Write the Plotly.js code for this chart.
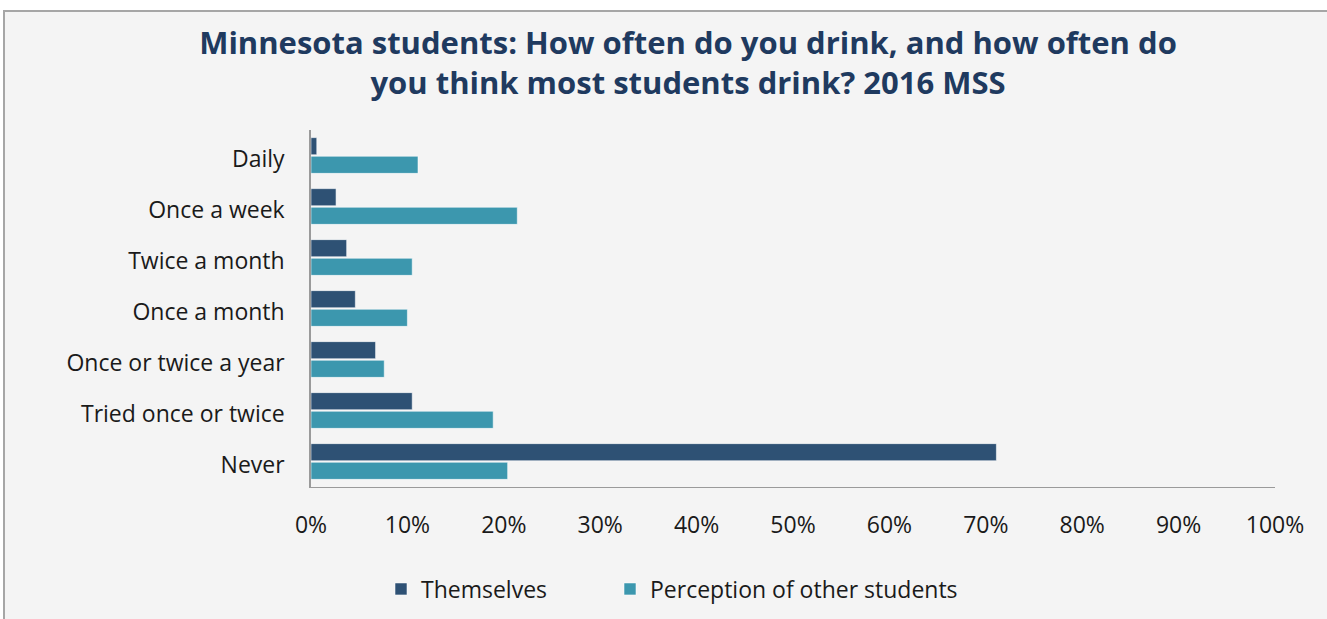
<!DOCTYPE html>
<html>
<head>
<meta charset="utf-8">
<script src="https://cdn.plot.ly/plotly-3.0.1.min.js"></script>
<style>
  html, body { margin: 0; padding: 0; background: #ffffff; width: 1327px; height: 619px; overflow: hidden; }
  #chart { position: absolute; left: 3px; top: 10px; width: 1322px; height: 607px;
           border-top: 2px solid #a6a6a6; border-left: 2px solid #a6a6a6; background: #f4f4f4; }
</style>
</head>
<body>
<div id="chart"></div>
<script>
const categories = ["Daily", "Once a week", "Twice a month", "Once a month", "Once or twice a year", "Tried once or twice", "Never"];
const themselves = [0.6, 2.6, 3.7, 4.6, 6.7, 10.5, 71.1];
const perception = [11.1, 21.4, 10.5, 10.0, 7.6, 18.9, 20.4];
const seriesNames = ["Themselves", "Perception of other students"];
const xTickVals = [0, 10, 20, 30, 40, 50, 60, 70, 80, 90, 100];
const xTickText = ["0%", "10%", "20%", "30%", "40%", "50%", "60%", "70%", "80%", "90%", "100%"];

const FONT = "'Open Sans', 'Noto Sans', sans-serif";
const traces = [
  { type: "bar", orientation: "h", name: seriesNames[0], y: categories, x: themselves, legend: "legend",
    marker: { color: "#2e5174", line: { color: "rgba(255,255,255,0.55)", width: 1 } }, hoverinfo: "x+y" },
  { type: "bar", orientation: "h", name: seriesNames[1], y: categories, x: perception, legend: "legend2",
    marker: { color: "#3c97ae", line: { color: "rgba(255,255,255,0.55)", width: 1 } }, hoverinfo: "x+y" }
];
const legendBase = {
  orientation: "h", xanchor: "left", xref: "container",
  yref: "container", y: 1 - 577 / 607, yanchor: "middle",
  bgcolor: "rgba(0,0,0,0)", font: { family: FONT, size: 23, color: "#1a1a1a" }
};
const layout = {
  width: 1322, height: 607,
  paper_bgcolor: "#f4f4f4", plot_bgcolor: "#f4f4f4",
  margin: { l: 306, r: 52, t: 118, b: 132, pad: 0, autoexpand: false },
  font: { family: FONT, size: 23, color: "#1a1a1a" },
  title: {
    text: "Minnesota students: How often do you drink, and how often do<br>you think most students drink? 2016 MSS",
    font: { family: FONT, size: 31, color: "#1f3a5f", weight: "bold" },
    xref: "container", x: 683 / 1322, xanchor: "center",
    yref: "container", y: 1 - 42 / 607, yanchor: "top"
  },
  barmode: "group", bargap: 0.27, bargroupgap: 0.08,
  xaxis: {
    range: [0, 100], tickvals: xTickVals, ticktext: xTickText,
    showgrid: false, zeroline: false, showline: true, linecolor: "#9a9a9a", linewidth: 1,
    ticks: "", ticklabelstandoff: 17, tickfont: { family: FONT, size: 23, color: "#1a1a1a" }, fixedrange: true
  },
  yaxis: {
    autorange: "reversed", type: "category",
    showgrid: false, zeroline: false, showline: true, linecolor: "#9a9a9a", linewidth: 1.5,
    ticks: "", ticklabelstandoff: 20, ticklabelshift: -3,
    tickfont: { family: FONT, size: 23, color: "#1a1a1a" }, fixedrange: true
  },
  showlegend: true,
  legend: Object.assign({}, legendBase, { x: 376 / 1322 }),
  legend2: Object.assign({}, legendBase, { x: 605 / 1322 })
};
Plotly.newPlot("chart", traces, layout, { displayModeBar: false, responsive: false });
</script>
</body>
</html>
